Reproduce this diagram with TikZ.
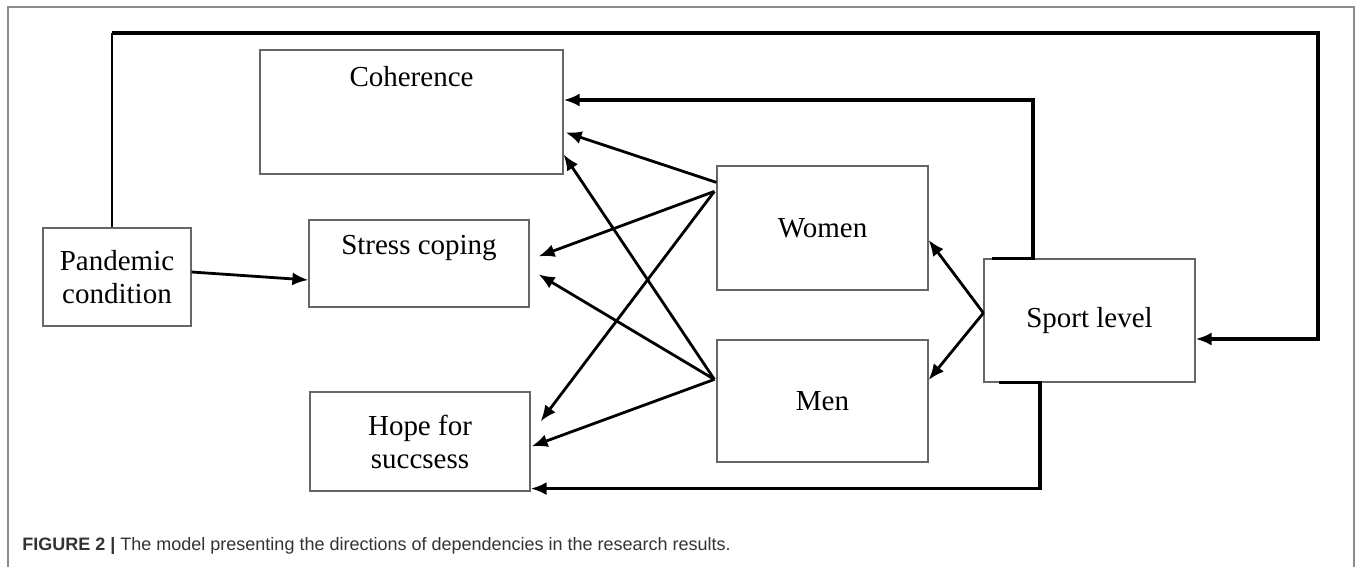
\documentclass[tikz,border=0pt]{standalone}
\usepackage{fontspec}
\setmainfont{Liberation Serif}
\newfontfamily\capfont{Liberation Sans}
\usetikzlibrary{arrows.meta}

\tikzset{
  box/.style={draw=black!60,line width=0.6pt,inner sep=0pt,align=center,
    font=\fontsize{14.5pt}{16.5pt}\selectfont},
  arr/.style={-{Latex[length=8pt,width=6.5pt]},line width=1.4pt},
  loopline/.style={line width=1.6pt},
}

\begin{document}
\begin{tikzpicture}[x=0.5pt,y=-0.5pt]
    \useasboundingbox (0,0) rectangle (1357,567);
    % frame of the figure
    \draw [black!45,line width=0.8pt] (8,567) -- (8,7) -- (1354,7) -- (1354,567);

    % Boxes:
    \node [box,minimum width=74pt,minimum height=49pt] (pan) at (117,277) {Pandemic\\condition};
    \node [box,minimum width=151.5pt,minimum height=62pt,
      label={[anchor=base,yshift=-18.5pt,font=\fontsize{14.5pt}{16.5pt}\selectfont]north:Coherence}] (coh) at (411.5,112) {};
    \node [box,minimum width=110pt,minimum height=43.5pt,
      label={[anchor=base,yshift=-17.5pt,font=\fontsize{14.5pt}{16.5pt}\selectfont]north:Stress coping}] (stress) at (419,263.5) {};
    \node [box,minimum width=110pt,minimum height=49.5pt] (hope) at (420,441.5) {Hope for\\succsess};
    \node [box,minimum width=105.5pt,minimum height=62pt] (women) at (822.5,228) {Women};
    \node [box,minimum width=105.5pt,minimum height=61pt] (men) at (822.5,401) {Men};
    \node [box,minimum width=105.5pt,minimum height=61.5pt] (sport) at (1089.5,320.5) {Sport level};

    % Loop from the pandemic box round to sport level:
    \coordinate (topleft) at (112,33);
    \coordinate (topright) at (1318,33);
    \draw [line width=0.6pt] ([xshift=-2.5pt]pan.north) -- (topleft);
    \draw [arr,loopline] (topleft) -- (topright) |- ([yshift=-9.25pt]sport.east);

    % Sport level back to coherence and hope
    \draw [arr,loopline] ([xshift=-48.75pt]sport.north) -- ([xshift=-28.25pt]sport.north) |- ([yshift=6pt]coh.east);
    \draw [arr,loopline] ([xshift=-45.25pt]sport.south) -- ([xshift=-24.75pt]sport.south) |- ([yshift=1.5pt]hope.south east);

    % Pandemic condition to stress coping
    \draw [arr] ([yshift=2.5pt]pan.east) -- ([yshift=-8.25pt]stress.west);

    % Sport level to women and men
    \draw [arr] ([yshift=3.75pt]sport.west) -- ([yshift=-6pt]women.east);
    \draw [arr] ([yshift=3.75pt]sport.west) -- ([yshift=10.5pt]men.east);

    % Women to the three outcomes
    \coordinate (wa) at ([yshift=-8.5pt]women.north west);
    \coordinate (wb) at ([xshift=-1pt,yshift=-13pt]women.north west);
    \draw [arr] (wa) -- ([xshift=1pt,yshift=-41.5pt]coh.north east);
    \draw [arr] (wb) -- ([xshift=4.5pt,yshift=-18.5pt]stress.north east);
    \draw [arr] (wb) -- ([xshift=5pt,yshift=-15pt]hope.north east);

    % Men to the three outcomes
    \coordinate (ma) at ([xshift=-1pt,yshift=-20pt]men.north west);
    \draw [arr] (ma) -- ([yshift=-52.5pt]coh.north east);
    \draw [arr] (ma) -- ([xshift=4.5pt,yshift=-27.5pt]stress.north east);
    \draw [arr] (ma) -- ([xshift=0.5pt,yshift=-27.5pt]hope.north east);

    % Caption
    \node [anchor=base west,inner sep=0pt,text=black!80,font=\capfont\fontsize{9pt}{11pt}\selectfont] (cap) at (22,550)
      {{\bfseries FIGURE 2 |} The model presenting the directions of dependencies in the research results.};
\end{tikzpicture}
\end{document}
